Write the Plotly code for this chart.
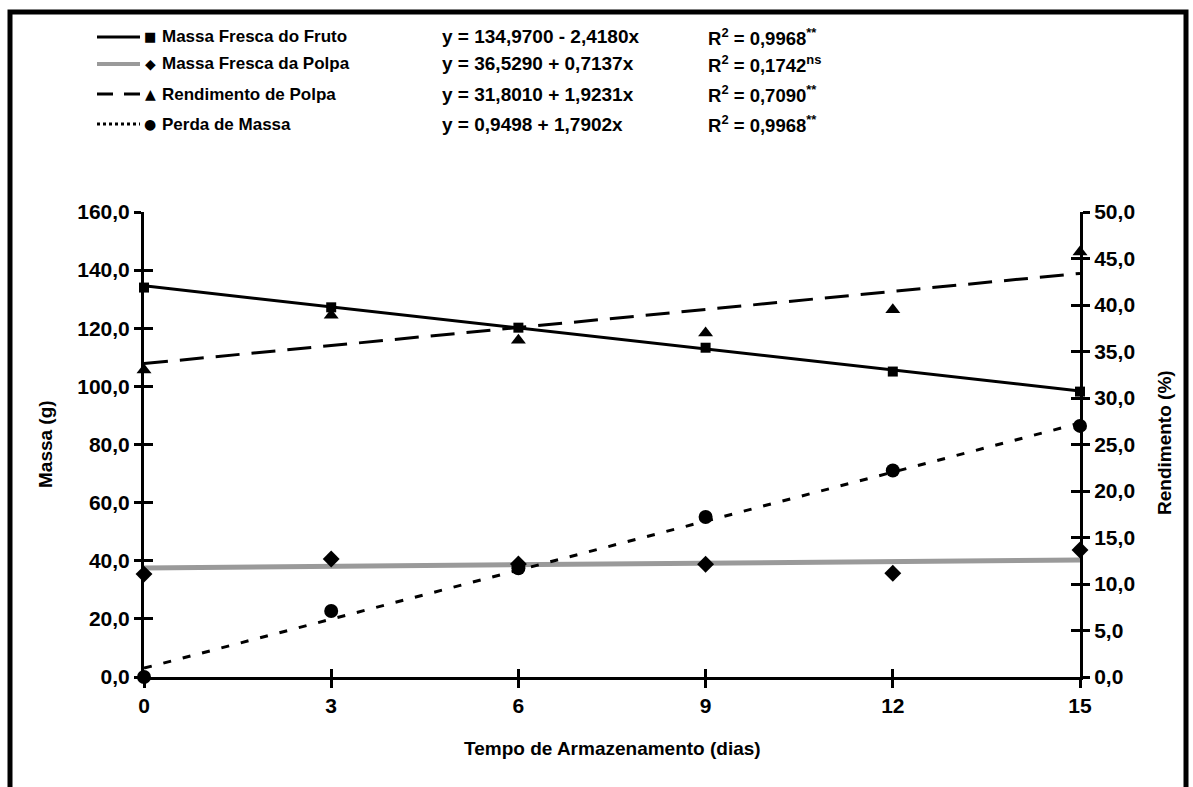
import plotly.graph_objects as go

# ---- data ----
dias = [0, 3, 6, 9, 12, 15]
massa_fruto = [134.0, 127.2, 120.2, 113.3, 105.1, 98.2]      # g (left axis)
massa_polpa = [35.4, 40.6, 38.9, 38.8, 35.7, 43.7]           # g (left axis)
rendimento = [33.0, 38.9, 36.2, 37.0, 39.5, 45.7]            # % (right axis)
perda = [0.0, 7.1, 11.7, 17.2, 22.2, 27.0]                   # % (right axis)

trend_x = [0, 15]
trend_fruto = [134.6, 98.4]
trend_polpa = [37.5, 40.3]
trend_rend = [33.7, 43.4]
trend_perda = [0.95, 27.3]

left_ticks = [0, 20, 40, 60, 80, 100, 120, 140, 160]
right_ticks = [0, 5, 10, 15, 20, 25, 30, 35, 40, 45, 50]
x_ticks = [0, 3, 6, 9, 12, 15]

legend_names = ["Massa Fresca do Fruto", "Massa Fresca da Polpa", "Rendimento de Polpa", "Perda de Massa"]
legend_eqs = ["y = 134,9700 - 2,4180x", "y = 36,5290 + 0,7137x", "y = 31,8010 + 1,9231x", "y = 0,9498 + 1,7902x"]
legend_r2 = ["R<sup>2</sup> = 0,9968<sup>**</sup>", "R<sup>2</sup> = 0,1742<sup>ns</sup>",
             "R<sup>2</sup> = 0,7090<sup>**</sup>", "R<sup>2</sup> = 0,9968<sup>**</sup>"]
legend_syms = ["■", "◆", "▲", "●"]

# ---- layout geometry (pixels) ----
W, H = 1193, 787
L, R, T, B = 144, 1080, 212, 677


def pxx(x):
    return (x - L) / (R - L)


def pxy(y):
    return (B - y) / (B - T)


FONT = "Liberation Sans, Arial, sans-serif"
fig = go.Figure()

# trend lines
fig.add_trace(go.Scatter(x=trend_x, y=trend_polpa, mode="lines", line=dict(color="#9a9a9a", width=5),
                         yaxis="y", showlegend=False, hoverinfo="skip"))
fig.add_trace(go.Scatter(x=trend_x, y=trend_fruto, mode="lines", line=dict(color="black", width=3),
                         yaxis="y", showlegend=False))
fig.add_trace(go.Scatter(x=trend_x, y=trend_rend, mode="lines", line=dict(color="black", width=3, dash="24px,12px"),
                         yaxis="y2", showlegend=False))
fig.add_trace(go.Scatter(x=trend_x, y=trend_perda, mode="lines", line=dict(color="black", width=3, dash="8px,12px"),
                         yaxis="y2", showlegend=False))

# points
fig.add_trace(go.Scatter(x=dias, y=massa_fruto, mode="markers", marker=dict(symbol="square", size=10, color="black"),
                         yaxis="y", name=legend_names[0], showlegend=False, cliponaxis=False))
fig.add_trace(go.Scatter(x=dias, y=massa_polpa, mode="markers", marker=dict(symbol="diamond", size=13, color="black"),
                         yaxis="y", name=legend_names[1], showlegend=False, cliponaxis=False))
fig.add_trace(go.Scatter(x=dias, y=rendimento, mode="markers", marker=dict(symbol="triangle-up", size=13, color="black"),
                         yaxis="y2", name=legend_names[2], showlegend=False, cliponaxis=False))
fig.add_trace(go.Scatter(x=dias, y=perda, mode="markers", marker=dict(symbol="circle", size=14, color="black"),
                         yaxis="y2", name=legend_names[3], showlegend=False, cliponaxis=False))

# invisible traces so that the inside-tick overlay axes are drawn
fig.add_trace(go.Scatter(x=[None], y=[None], xaxis="x2", yaxis="y3", showlegend=False, hoverinfo="skip"))
fig.add_trace(go.Scatter(x=[None], y=[None], xaxis="x2", yaxis="y4", showlegend=False, hoverinfo="skip"))

tickfont = dict(family=FONT, size=21, color="black")
common_y = dict(showgrid=False, zeroline=False, showline=True, linecolor="black", linewidth=3,
                tickcolor="black", tickwidth=3)

fig.update_layout(
    width=W, height=H,
    margin=dict(l=L, r=W - R, t=T, b=H - B),
    paper_bgcolor="white", plot_bgcolor="white",
    separators=",.",
    font=dict(family=FONT, color="black"),
    xaxis=dict(range=[0, 15], tickvals=x_ticks, ticktext=[f"<b>{v}</b>" for v in x_ticks],
               ticks="outside", ticklen=8, tickwidth=3, tickcolor="black",
               showline=True, linewidth=3, linecolor="black", showgrid=False, zeroline=False,
               tickfont=tickfont, anchor="y"),
    xaxis2=dict(range=[0, 15], tickvals=x_ticks, ticks="inside", ticklen=8, tickwidth=3, tickcolor="black",
                showticklabels=False, showline=False, showgrid=False, zeroline=False,
                overlaying="x", anchor="y3", side="bottom"),
    yaxis=dict(range=[0, 160], tickvals=left_ticks,
               ticktext=[f"<b>{v:.1f}</b>".replace(".", ",") for v in left_ticks],
               ticks="outside", ticklen=7, tickfont=tickfont, side="left", **common_y),
    yaxis2=dict(range=[0, 50], tickvals=right_ticks,
                ticktext=[f"<b>{v:.1f}</b>".replace(".", ",") for v in right_ticks],
                ticks="outside", ticklen=7, tickfont=tickfont, side="right", overlaying="y", anchor="x", **common_y),
    yaxis3=dict(range=[0, 160], tickvals=left_ticks, ticks="inside", ticklen=9, showticklabels=False,
                side="left", overlaying="y", anchor="x2", showgrid=False, zeroline=False, showline=False,
                tickcolor="black", tickwidth=3),
    yaxis4=dict(range=[0, 50], tickvals=right_ticks, ticks="inside", ticklen=9, showticklabels=False,
                side="right", overlaying="y", anchor="x2", showgrid=False, zeroline=False, showline=False,
                tickcolor="black", tickwidth=3),
)

shapes = []
annotations = []

# outer frame
shapes.append(dict(type="rect", xref="paper", yref="paper",
                   x0=pxx(10), x1=pxx(1186), y0=pxy(820), y1=pxy(12),
                   line=dict(color="black", width=5), fillcolor="rgba(0,0,0,0)", layer="below"))

# legend
row_y = [37, 64, 94, 124]
line_styles = [dict(color="black", width=3), dict(color="#9a9a9a", width=4),
               dict(color="black", width=3, dash="16px,11px"), dict(color="black", width=3, dash="3px,3px")]
sym_sizes = [13, 14, 14, 14]
for i in range(4):
    yy = pxy(row_y[i])
    shapes.append(dict(type="line", xref="paper", yref="paper", x0=pxx(97), x1=pxx(140), y0=yy, y1=yy,
                       line=line_styles[i]))
    annotations.append(dict(xref="paper", yref="paper", x=pxx(150), y=yy, text=legend_syms[i],
                            showarrow=False, xanchor="center", yanchor="middle",
                            font=dict(family="DejaVu Sans", size=sym_sizes[i], color="black")))
    annotations.append(dict(xref="paper", yref="paper", x=pxx(160), y=yy, text=f"<b>{legend_names[i]}</b>",
                            showarrow=False, xanchor="left", yanchor="middle",
                            font=dict(family=FONT, size=17, color="black")))
    annotations.append(dict(xref="paper", yref="paper", x=pxx(440), y=yy, text=f"<b>{legend_eqs[i]}</b>",
                            showarrow=False, xanchor="left", yanchor="middle",
                            font=dict(family=FONT, size=19, color="black")))
    annotations.append(dict(xref="paper", yref="paper", x=pxx(706), y=yy, text=f"<b>{legend_r2[i]}</b>",
                            showarrow=False, xanchor="left", yanchor="middle",
                            font=dict(family=FONT, size=18.5, color="black")))

# axis titles
annotations.append(dict(xref="paper", yref="paper", x=pxx(612), y=pxy(748),
                        text="<b>Tempo de Armazenamento (dias)</b>", showarrow=False,
                        xanchor="center", yanchor="middle", font=dict(family=FONT, size=19, color="black")))
annotations.append(dict(xref="paper", yref="paper", x=pxx(45), y=pxy(444),
                        text="<b>Massa (g)</b>", showarrow=False, textangle=-90,
                        xanchor="center", yanchor="middle", font=dict(family=FONT, size=19, color="black")))
annotations.append(dict(xref="paper", yref="paper", x=pxx(1164), y=pxy(443),
                        text="<b>Rendimento (%)</b>", showarrow=False, textangle=-90,
                        xanchor="center", yanchor="middle", font=dict(family=FONT, size=19, color="black")))

fig.update_layout(shapes=shapes, annotations=annotations)
fig.write_html("out.html")
